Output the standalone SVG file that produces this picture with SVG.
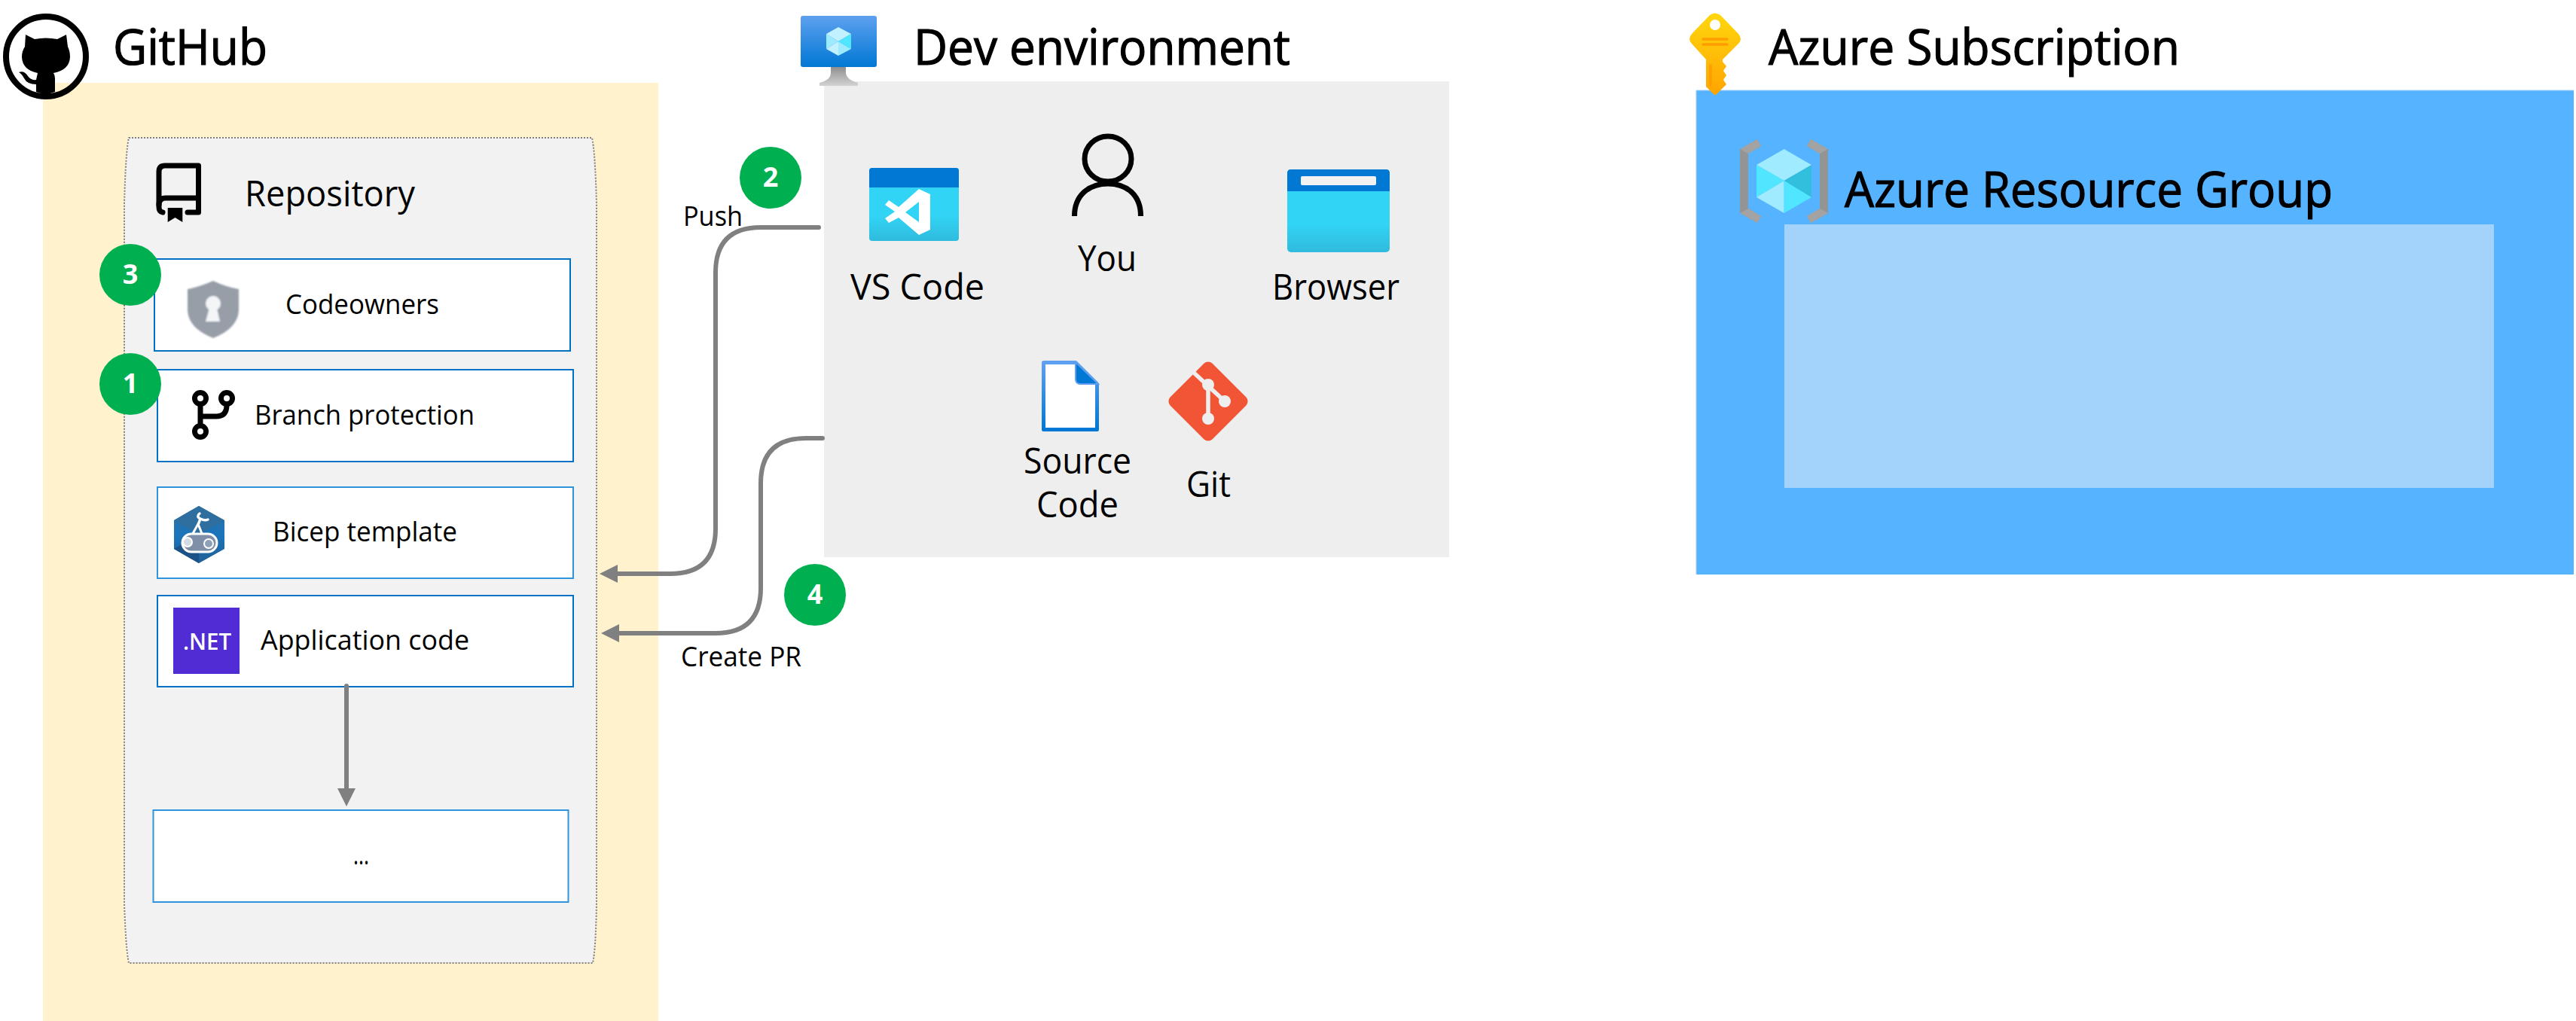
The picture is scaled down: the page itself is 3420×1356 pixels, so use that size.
<svg xmlns="http://www.w3.org/2000/svg" width="3420" height="1356" viewBox="0 0 3420 1356">
<style>
text{font-family:"Open Sans","Noto Sans","Liberation Sans",sans-serif;fill:#000}
.title{font-size:65px;font-weight:500;stroke:#000;stroke-width:1.200px}
.lab{font-size:48px}
.sm{font-size:37px}
.box{fill:#fff;stroke:#0072c6;stroke-width:2}
.box2{fill:#fff;stroke:#2e94dc;stroke-width:2}
.badge{fill:#00b050}
.num{font-size:36px;font-weight:700;fill:#fff;text-anchor:middle}
.conn{fill:none;stroke:#808080;stroke-width:6;stroke-linecap:round}
</style>
<defs>
<marker id="arrow" markerUnits="userSpaceOnUse" markerWidth="26" markerHeight="26" refX="0" refY="12" orient="auto"><path d="M0 0L24 12L0 24Z" fill="#808080"/></marker>
<linearGradient id="gScreen" x1="0" y1="0" x2="0" y2="1"><stop offset="0" stop-color="#5ea0ef"/><stop offset="1" stop-color="#0078d4"/></linearGradient>
<linearGradient id="gStand" x1="0" y1="0" x2="0" y2="1"><stop offset="0" stop-color="#8f8f8f"/><stop offset="1" stop-color="#d2d2d2"/></linearGradient>
<linearGradient id="gBody" x1="0" y1="0" x2="0" y2="1"><stop offset="0" stop-color="#32d4f5"/><stop offset=".65" stop-color="#32d4f5"/><stop offset="1" stop-color="#2fbbdd"/></linearGradient>
<linearGradient id="gKey" x1="0" y1="0" x2="0" y2="1"><stop offset="0" stop-color="#ffd70f"/><stop offset="1" stop-color="#ffa400"/></linearGradient>
<linearGradient id="gHex" x1="0" y1="0" x2="0" y2="1"><stop offset="0" stop-color="#2f6f9f"/><stop offset=".5" stop-color="#1b75bb"/><stop offset="1" stop-color="#1f5f96"/></linearGradient>
<filter id="soft"><feGaussianBlur stdDeviation="0.8"/></filter>
</defs>

<g id="github-area">
<rect x="57" y="110" width="817" height="1246" fill="#fff2cc"/>
<g id="github-icon">
<circle cx="61" cy="75" r="53" fill="none" stroke="#000" stroke-width="8"/>
<path d="M34 46L46 52Q61 49 76 52L88 46L90 62Q93 68 93 76Q92 93 71 97Q73 100 73 104L73 122Q60 127 48 122L48 112Q36 112 32 104Q29 98 25 96Q32 93 37 101Q41 107 48 106L50 97Q30 93 29 76Q29 68 33 62Z" fill="#000"/>
</g>
<text class="title" x="150" y="86" textLength="205" lengthAdjust="spacingAndGlyphs">GitHub</text>
</g>

<g id="repository">
<path d="M171 183H786Q790 200 792 270V1200Q791 1260 787 1279H171Q167 1260 165 1200V270Q167 200 171 183Z" fill="#f2f2f2" stroke="#7f7f7f" stroke-width="2" stroke-dasharray="2 2"/>
<g id="repo-icon" fill="none" stroke="#000" stroke-width="7" stroke-linecap="round" stroke-linejoin="round">
<path d="M249 282H263.500V220H219Q211 220 211 228V275Q211 281 216 282"/>
<path d="M211 272Q211 263 220 263H263"/>
<path d="M222.700 276H242.300V295L232.500 289L222.700 295Z" fill="#000" stroke="none"/>
</g>
<text x="325" y="274" style="font-size:47px" textLength="226" lengthAdjust="spacingAndGlyphs">Repository</text>
</g>

<g id="codeowners">
<rect class="box" x="205" y="344" width="552" height="122"/>
<g filter="url(#soft)">
<path d="M283 373Q265 381 249 384L249 412Q250 436 283 449Q316 436 317 412L317 384Q300 381 283 373Z" fill="#979ea8"/>
<circle cx="283" cy="403" r="10" fill="#f3f5f7"/>
<path d="M279 405H287L292 427H273Z" fill="#f3f5f7"/>
</g>
<text class="sm" x="379" y="417" textLength="204" lengthAdjust="spacingAndGlyphs">Codeowners</text>
</g>

<g id="branch-protection">
<rect class="box" x="209" y="491" width="552" height="122"/>
<g fill="none" stroke="#000" stroke-width="7">
<path d="M266 537V565M266 553H287Q301 553 301 538"/>
<circle cx="266" cy="529" r="7.500" fill="#fff"/>
<circle cx="301" cy="529" r="7.500" fill="#fff"/>
<circle cx="266" cy="573" r="7.500" fill="#fff"/>
</g>
<text class="sm" x="338" y="564" textLength="292" lengthAdjust="spacingAndGlyphs">Branch protection</text>
</g>

<g id="bicep-template">
<rect class="box2" x="209" y="647" width="552" height="121"/>
<path d="M264 672L298 691V729L264 748L231 729V691Z" fill="url(#gHex)"/>
<path d="M231 691L264 710L298 691L264 672Z" fill="#2f6f9f"/>
<path d="M231 729L264 710V748Z" fill="#1d5287"/>
<path d="M254 712L263 696L271 716" fill="none" stroke="#fff" stroke-width="3"/>
<path d="M263 697L266 689Q260 686 265 682M266 689Q272 692 276 690" fill="none" stroke="#fff" stroke-width="3.500" stroke-linecap="round"/>
<rect x="242" y="709" width="46" height="24" rx="12" fill="#7f8fa8" stroke="#fff" stroke-width="3"/>
<circle cx="249" cy="720" r="6" fill="#d5dbe5" stroke="#fff" stroke-width="2"/>
<circle cx="277" cy="722" r="6" fill="#8fa1b8" stroke="#fff" stroke-width="2"/>
<text class="sm" x="362" y="719" textLength="245" lengthAdjust="spacingAndGlyphs">Bicep template</text>
</g>

<g id="application-code">
<rect class="box" x="209" y="791" width="552" height="121"/>
<rect x="230" y="807" width="88" height="88" fill="#512bd4"/>
<text x="243" y="863" style="font-size:31px;font-weight:600;fill:#fff" textLength="64" lengthAdjust="spacingAndGlyphs">.NET</text>
<text class="sm" x="346" y="863" textLength="277" lengthAdjust="spacingAndGlyphs">Application code</text>
</g>

<g id="more">
<rect class="box2" x="203.500" y="1076" width="551" height="122"/>
<text class="sm" x="469" y="1148" textLength="21" lengthAdjust="spacingAndGlyphs">...</text>
</g>

<g id="dev-environment">
<rect x="1094" y="108" width="830" height="632" fill="#eee"/>
<g id="vm-icon">
<path d="M1103 89H1123V97Q1124 106 1139 110V114H1088V110Q1103 106 1103 97Z" fill="url(#gStand)"/>
<rect x="1063" y="21" width="101" height="68" rx="3" fill="url(#gScreen)"/>
<path d="M1113 36L1130 45L1113 55L1097 45Z" fill="#c3f1ff"/>
<path d="M1097 45L1113 55L1097 65Z" fill="#9cebff"/>
<path d="M1130 45V65L1113 55Z" fill="#50e6ff"/>
<path d="M1097 65L1113 55V74Z" fill="#c3f1ff"/>
<path d="M1130 65L1113 55V74Z" fill="#9cebff"/>
</g>
<text class="title" x="1213" y="86" textLength="500" lengthAdjust="spacingAndGlyphs">Dev environment</text>
</g>

<g id="vs-code">
<rect x="1154" y="223" width="119" height="97" rx="4" fill="url(#gBody)"/>
<path d="M1158 223H1269Q1273 223 1273 227V249H1154V227Q1154 223 1158 223Z" fill="#0078d4"/>
<path fill-rule="evenodd" d="M1220 251L1235 258V305L1220 312L1193 289L1180 296L1175 290L1188 281L1175 272L1180 266L1193 275ZM1220 268L1202 282L1220 295Z" fill="#fff"/>
<text class="lab" x="1129" y="398" textLength="178" lengthAdjust="spacingAndGlyphs">VS Code</text>
</g>

<g id="you">
<ellipse cx="1471" cy="211" rx="31" ry="30" fill="none" stroke="#000" stroke-width="7"/>
<path d="M1426.500 287C1426.500 258 1447 244 1471 244S1514.500 258 1514.500 287" fill="none" stroke="#000" stroke-width="7"/>
<text class="lab" x="1431" y="360" textLength="78" lengthAdjust="spacingAndGlyphs">You</text>
</g>

<g id="browser">
<rect x="1709" y="225" width="136" height="110" rx="5" fill="url(#gBody)"/>
<path d="M1714 225H1840Q1845 225 1845 230V254H1709V230Q1709 225 1714 225Z" fill="#0078d4"/>
<rect x="1727" y="234" width="100" height="12" rx="2" fill="#f2f2f2"/>
<text class="lab" x="1689" y="398" textLength="169" lengthAdjust="spacingAndGlyphs">Browser</text>
</g>

<g id="source-code">
<path d="M1385.500 481.500H1428L1456.500 510V570.500H1385.500Z" fill="#fff" stroke="url(#gScreen)" stroke-width="5" stroke-linejoin="round"/>
<path d="M1428 481V503Q1428 510 1435 510H1458Z" fill="#0078d4" stroke="#5ea0ef" stroke-width="2"/>
<text class="lab" x="1359" y="629" textLength="143" lengthAdjust="spacingAndGlyphs">Source</text>
<text class="lab" x="1376" y="687" textLength="109" lengthAdjust="spacingAndGlyphs">Code</text>
</g>

<g id="git">
<rect x="1564.500" y="493.500" width="79" height="79" rx="8" transform="rotate(45 1604 533)" fill="#f25535"/>
<path d="M1585 495L1626 533M1604 511V556" fill="none" stroke="#eee" stroke-width="5.500"/>
<circle cx="1604" cy="511" r="8" fill="#eee"/>
<circle cx="1626" cy="533" r="8" fill="#eee"/>
<circle cx="1604" cy="556" r="8" fill="#eee"/>
<text class="lab" x="1575" y="660" textLength="59" lengthAdjust="spacingAndGlyphs">Git</text>
</g>

<g id="azure-subscription">
<rect x="2252" y="120" width="1165" height="643" fill="#55b3ff"/>
<path d="M2252 763V120H3417" fill="none" stroke="#9ed0ff" stroke-width="1"/>
<g id="key-icon">
<path d="M2270 20Q2277 15 2284 20L2308 45Q2314 52 2308 58L2287 79V82L2292 88L2288 94L2292 100L2288 106L2292 112L2279 125Q2277 127 2275 125L2265 115V79L2246 58Q2240 52 2246 45Z" fill="url(#gKey)"/>
<circle cx="2277" cy="33" r="7" fill="#fff"/>
<path d="M2261 52H2293M2261 59H2293M2271 87V113" fill="none" stroke="#ff9c00" stroke-width="3.500" stroke-linecap="round"/>
</g>
<text class="title" x="2348" y="86" textLength="546" lengthAdjust="spacingAndGlyphs">Azure Subscription</text>
</g>

<g id="resource-group">
<rect x="2369" y="298" width="942" height="350" fill="#a3d3fa"/>
<g id="rg-icon">
<path d="M2333 185L2338 194L2321 204V277L2338 287L2333 296L2310 283V198Z" fill="#949494"/>
<path d="M2404 185L2399 194L2416 204V277L2399 287L2404 296L2427 283V198Z" fill="#949494"/>
<path d="M2333 185L2338 194L2321 204L2310 198Z M2338 287L2333 296L2310 283L2321 277Z M2404 185L2399 194L2416 204L2427 198Z M2399 287L2404 296L2427 283L2416 277Z" fill="#a3a3a4"/>
<path d="M2368.700 198L2405 219L2368.700 240L2332 219Z" fill="#a0ebff"/>
<path d="M2332 219L2368.700 240L2332 262Z" fill="#50e6ff"/>
<path d="M2405 219V262L2368.700 240Z" fill="#32bedd"/>
<path d="M2332 262L2368.700 240V283Z" fill="#a0ebff"/>
<path d="M2405 262L2368.700 240V283Z" fill="#50e6ff"/>
</g>
<text class="title" x="2449" y="275" textLength="648" lengthAdjust="spacingAndGlyphs">Azure Resource Group</text>
</g>

<g id="connectors">
<path class="conn" d="M1087 302H1010Q950 302 950 362V702Q950 762 890 762H820" marker-end="url(#arrow)"/>
<path class="conn" d="M1092 582H1070Q1010 582 1010 642V781Q1010 841 950 841H822" marker-end="url(#arrow)"/>
<path class="conn" d="M460 911V1047" marker-end="url(#arrow)"/>
</g>

<g id="label-push"><text class="sm" x="907" y="300" textLength="79" lengthAdjust="spacingAndGlyphs">Push</text></g>
<g id="label-create-pr"><text class="sm" x="904" y="885" textLength="160" lengthAdjust="spacingAndGlyphs">Create PR</text></g>

<g id="badge-3"><circle class="badge" cx="173" cy="365" r="41"/><text class="num" x="173" y="377">3</text></g>
<g id="badge-1"><circle class="badge" cx="173" cy="510" r="41"/><text class="num" x="173" y="522">1</text></g>
<g id="badge-2"><circle class="badge" cx="1023" cy="236" r="41"/><text class="num" x="1023" y="248">2</text></g>
<g id="badge-4"><circle class="badge" cx="1082" cy="790" r="41"/><text class="num" x="1082" y="802">4</text></g>
</svg>
